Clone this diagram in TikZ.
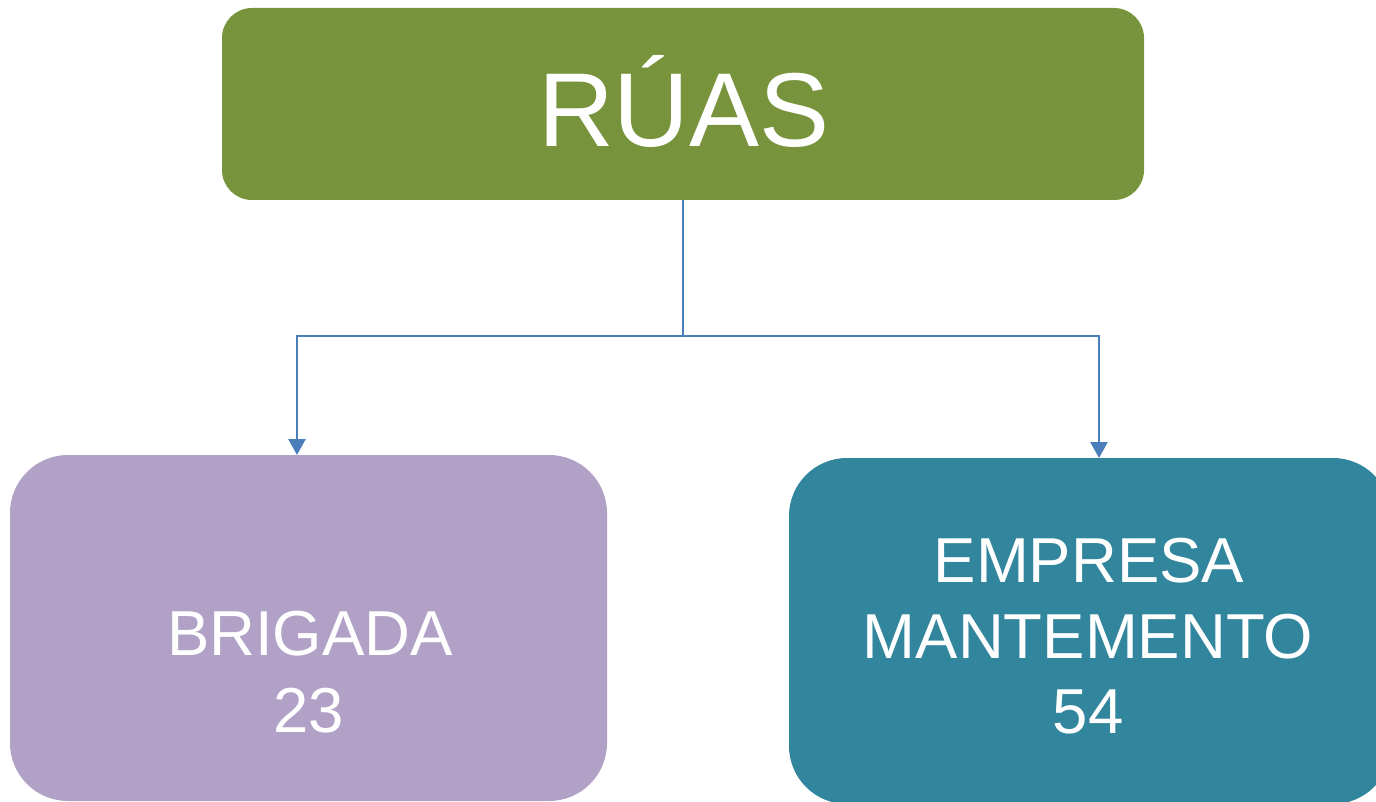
\documentclass[tikz,border=0pt]{standalone}
\usepackage{fontspec}
\setmainfont{Liberation Sans}
\usetikzlibrary{arrows.meta}
\definecolor{topgreen}{RGB}{119,148,60}
\definecolor{lilac}{RGB}{178,161,199}
\definecolor{teal}{RGB}{49,133,156}
\definecolor{linkblue}{RGB}{74,126,187}
\tikzset{
  box/.style={rounded corners=#1, inner sep=0pt},
  lbl/.style={text=white, anchor=base, inner sep=0pt},
  link/.style={draw=linkblue, line width=2.6pt},
  arr/.style={link, -{Triangle[width=17pt,length=16pt]}}
}
\begin{document}
\begin{tikzpicture}[x=1pt,y=-1pt]
\useasboundingbox (0,0) rectangle (1376,802);
% boxes
\fill[topgreen, box=30pt] (222,8) rectangle (1144,200);
\node[inner sep=0pt, minimum width=922pt, minimum height=192pt] (top) at (683,104) {};
\fill[lilac, box=58pt] (10,455) rectangle (607,801);
\node[inner sep=0pt, minimum width=597pt, minimum height=346pt] (left) at (308.5,628) {};
\fill[teal, box=58pt] (789,458) rectangle (1391,804);
\node[inner sep=0pt, minimum width=602pt, minimum height=346pt] (right) at (1090,631) {};
% texts
\node[lbl, font=\fontsize{105}{120}\selectfont] (ttop) at (684,147) {RÚAS};
\node[lbl, font=\fontsize{63.5}{73}\selectfont] (t1) at (310,655) {BRIGADA};
\node[lbl, font=\fontsize{63.5}{73}\selectfont] (t2) at (309,732) {23};
\node[lbl, font=\fontsize{63.5}{73}\selectfont] (t3) at (1089,582) {EMPRESA};
\node[lbl, font=\fontsize{63.5}{73}\selectfont] (t4) at (1088,658) {MANTEMENTO};
\node[lbl, font=\fontsize{63.5}{73}\selectfont] (t5) at (1088,733) {54};
% connectors
\coordinate (mid) at (683,336);
\draw[link] (top.south) -- (mid);
\draw[arr] (mid) -- (297,336) -- (297,455);
\draw[arr] (mid) -- (1099,336) -- (1099,458);
\end{tikzpicture}
\end{document}
